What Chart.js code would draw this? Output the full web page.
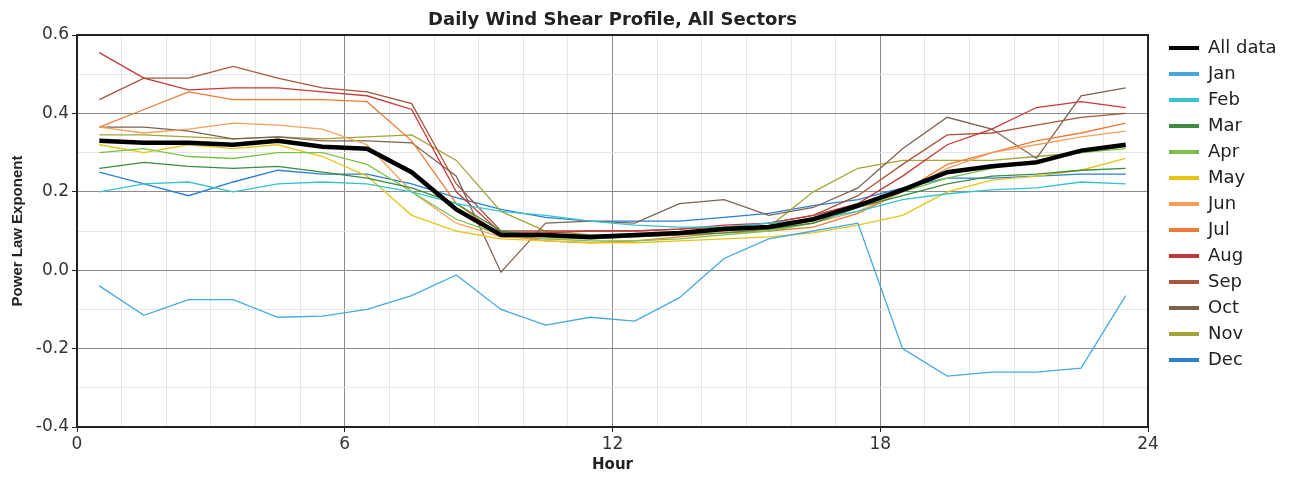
<!DOCTYPE html>
<html>
<head>
<meta charset="utf-8">
<script src="https://cdn.jsdelivr.net/npm/chart.js@4.4.1/dist/chart.umd.min.js"></script>
<style>
  body { margin: 0; background: #fff; }
  #wrap { width: 1293px; height: 479px; position: relative; }
</style>
</head>
<body>
<div id="wrap"><canvas id="shearChart"></canvas></div>
<script>
// hour of day (bin centres)
const HOURS = [0.5, 1.5, 2.5, 3.5, 4.5, 5.5, 6.5, 7.5, 8.5, 9.5, 10.5, 11.5, 12.5, 13.5, 14.5, 15.5, 16.5, 17.5, 18.5, 19.5, 20.5, 21.5, 22.5, 23.5]
const X_TICKS = [0, 6, 12, 18, 24]
const Y_TICKS = [-0.4, -0.2, 0.0, 0.2, 0.4, 0.6]

// power law exponent
const ALL_DATA = [0.33, 0.325, 0.325, 0.32, 0.33, 0.315, 0.31, 0.25, 0.155, 0.09, 0.09, 0.085, 0.09, 0.095, 0.105, 0.11, 0.13, 0.165, 0.205, 0.25, 0.265, 0.275, 0.305, 0.32]
const JAN = [-0.04, -0.115, -0.075, -0.075, -0.12, -0.117, -0.10, -0.065, -0.012, -0.10, -0.14, -0.12, -0.13, -0.07, 0.03, 0.08, 0.10, 0.12, -0.20, -0.27, -0.26, -0.26, -0.25, -0.065]
const FEB = [0.20, 0.22, 0.225, 0.20, 0.22, 0.225, 0.22, 0.20, 0.17, 0.15, 0.14, 0.125, 0.115, 0.11, 0.11, 0.12, 0.13, 0.15, 0.18, 0.195, 0.205, 0.21, 0.225, 0.22]
const MAR = [0.26, 0.275, 0.265, 0.26, 0.265, 0.25, 0.235, 0.21, 0.17, 0.10, 0.085, 0.08, 0.085, 0.09, 0.095, 0.105, 0.12, 0.16, 0.19, 0.22, 0.24, 0.245, 0.255, 0.26]
const APR = [0.30, 0.31, 0.29, 0.285, 0.30, 0.30, 0.27, 0.20, 0.13, 0.09, 0.08, 0.075, 0.075, 0.08, 0.09, 0.10, 0.12, 0.16, 0.20, 0.235, 0.26, 0.28, 0.30, 0.31]
const MAY = [0.32, 0.30, 0.32, 0.31, 0.32, 0.29, 0.24, 0.14, 0.10, 0.08, 0.075, 0.07, 0.07, 0.075, 0.08, 0.085, 0.095, 0.115, 0.14, 0.20, 0.23, 0.24, 0.255, 0.285]
const JUN = [0.365, 0.35, 0.36, 0.375, 0.37, 0.36, 0.32, 0.20, 0.12, 0.085, 0.08, 0.08, 0.085, 0.09, 0.10, 0.105, 0.12, 0.15, 0.20, 0.26, 0.30, 0.32, 0.34, 0.355]
const JUL = [0.365, 0.41, 0.455, 0.435, 0.435, 0.435, 0.43, 0.33, 0.17, 0.09, 0.075, 0.07, 0.075, 0.085, 0.095, 0.10, 0.11, 0.145, 0.20, 0.27, 0.30, 0.33, 0.35, 0.375]
const AUG = [0.555, 0.49, 0.46, 0.465, 0.465, 0.455, 0.445, 0.41, 0.20, 0.095, 0.095, 0.10, 0.10, 0.105, 0.115, 0.12, 0.14, 0.17, 0.24, 0.32, 0.36, 0.415, 0.43, 0.415]
const SEP = [0.435, 0.49, 0.49, 0.52, 0.49, 0.465, 0.455, 0.425, 0.22, 0.10, 0.10, 0.10, 0.10, 0.105, 0.11, 0.12, 0.14, 0.19, 0.27, 0.345, 0.35, 0.37, 0.39, 0.40]
const OCT = [0.365, 0.365, 0.355, 0.335, 0.34, 0.33, 0.33, 0.325, 0.24, -0.005, 0.12, 0.125, 0.12, 0.17, 0.18, 0.14, 0.16, 0.21, 0.31, 0.39, 0.36, 0.285, 0.445, 0.465]
const NOV = [0.345, 0.345, 0.34, 0.335, 0.34, 0.335, 0.34, 0.345, 0.28, 0.15, 0.10, 0.09, 0.09, 0.095, 0.10, 0.11, 0.20, 0.26, 0.28, 0.28, 0.28, 0.29, 0.30, 0.315]
const DEC = [0.25, 0.22, 0.19, 0.225, 0.255, 0.245, 0.245, 0.22, 0.185, 0.155, 0.135, 0.125, 0.125, 0.125, 0.135, 0.145, 0.165, 0.18, 0.21, 0.235, 0.235, 0.24, 0.245, 0.245]

const SERIES_NAMES = ["All data", "Jan", "Feb", "Mar", "Apr", "May", "Jun", "Jul", "Aug", "Sep", "Oct", "Nov", "Dec"]
const SERIES_VALUES = [ALL_DATA, JAN, FEB, MAR, APR, MAY, JUN, JUL, AUG, SEP, OCT, NOV, DEC]
const SERIES_COLORS = ["#000000", "#45a9e0", "#33c4cf", "#3a8c3f", "#7cc24a", "#e8c417", "#f5a05a", "#ee7a35", "#c7383a", "#a8553a", "#7e6250", "#a3a435", "#2a7fd4"]

const WIDE_FONT = 'DejaVu Sans, Verdana, sans-serif'

const datasets = SERIES_NAMES.map((name, i) => {
    return {
        label: name,
        data: HOURS.map((h, j) => ({ x: h, y: SERIES_VALUES[i][j] })),
        borderColor: SERIES_COLORS[i],
        backgroundColor: SERIES_COLORS[i],
        borderWidth: i === 0 ? 4.5 : 1.3,
        pointRadius: 0,
        tension: 0,
        fill: false
    }
})

// frame round the plot area + legend placement
const frame = {
    id: 'frame',
    afterInit(chart) {
        // fixed legend column width so the plot area ends where it should
        const lg = chart.legend
        const fit = lg.fit
        lg.fit = function () {
            fit.call(this)
            this.width = 145
        }
    },
    afterLayout(chart) {
        const lg = chart.legend
        const h = lg.bottom - lg.top
        lg.left = chart.chartArea.right + 13
        lg.top = 31
        lg.bottom = lg.top + h
    },
    afterDatasetsDraw(chart) {
        const { ctx, chartArea: a } = chart
        ctx.save()
        ctx.strokeStyle = '#222'
        ctx.lineWidth = 2
        ctx.strokeRect(a.left, a.top, a.right - a.left, a.bottom - a.top)
        ctx.restore()
    }
}

const isMajorX = (v) => X_TICKS.includes(v)
const isMajorY = (v) => Y_TICKS.some((t) => Math.abs(t - v) < 1e-6)

new Chart(document.getElementById("shearChart"), {
    type: 'line',
    data: { datasets: datasets },
    plugins: [frame],
    options: {
        responsive: true,
        maintainAspectRatio: false,
        animation: false,
        layout: { padding: { left: 6, right: 0, top: 0, bottom: 2 } },
        scales: {
            // top axis only carries the chart title, centred over the plot
            top: {
                type: 'linear',
                position: 'top',
                min: 0,
                max: 24,
                afterFit: (scale) => { scale.height = 35 },
                ticks: { display: false },
                grid: { display: false },
                border: { display: false },
                title: {
                    display: true,
                    text: 'Daily Wind Shear Profile, All Sectors',
                    color: '#222',
                    font: { family: WIDE_FONT, size: 18, weight: 'bold' },
                    padding: { top: 10, bottom: 0 }
                }
            },
            x: {
                type: 'linear',
                min: 0,
                max: 24,
                afterFit: (scale) => { scale.height = 50 },
                ticks: {
                    stepSize: 1,
                    autoSkip: false,
                    maxRotation: 0,
                    color: '#333',
                    font: { family: WIDE_FONT, size: 17 },
                    padding: 2,
                    callback: (v) => isMajorX(v) ? v : ''
                },
                grid: {
                    color: (c) => isMajorX(c.tick.value) ? '#8a8a8a' : '#e6e6e6',
                    tickColor: (c) => isMajorX(c.tick.value) ? '#222' : 'rgba(0,0,0,0)',
                    tickLength: 5,
                    lineWidth: 1
                },
                border: { color: '#222', width: 2 },
                title: {
                    display: true,
                    text: 'Hour',
                    color: '#222',
                    font: { family: WIDE_FONT, size: 15, weight: 'bold' },
                    padding: { top: 0, bottom: 3 }
                }
            },
            y: {
                min: -0.4,
                max: 0.6,
                afterFit: (scale) => { scale.width = 71 },
                ticks: {
                    stepSize: 0.1,
                    autoSkip: false,
                    color: '#333',
                    font: { family: WIDE_FONT, size: 17 },
                    padding: 3,
                    callback: (v) => isMajorY(v) ? v.toFixed(1) : ''
                },
                grid: {
                    color: (c) => isMajorY(c.tick.value) ? '#8a8a8a' : '#e6e6e6',
                    tickColor: (c) => isMajorY(c.tick.value) ? '#222' : 'rgba(0,0,0,0)',
                    tickLength: 5,
                    lineWidth: 1
                },
                border: { color: '#222', width: 2 },
                title: {
                    display: true,
                    text: 'Power Law Exponent',
                    color: '#222',
                    font: { family: 'Liberation Sans, Arial', size: 15, weight: 'bold' },
                    padding: { top: 3, bottom: 0 }
                }
            }
        },
        plugins: {
            title: { display: false },
            legend: {
                position: 'right',
                align: 'start',
                labels: {
                    usePointStyle: true,
                    pointStyleWidth: 30,
                    padding: 8,
                    color: '#222',
                    font: { family: WIDE_FONT, size: 18 },
                    generateLabels: (chart) => {
                        const items = Chart.defaults.plugins.legend.labels.generateLabels(chart)
                        items.forEach((item) => {
                            item.pointStyle = 'line'
                            item.lineWidth = 4
                        })
                        return items
                    }
                }
            },
            tooltip: { enabled: false }
        }
    }
})
</script>
</body>
</html>
